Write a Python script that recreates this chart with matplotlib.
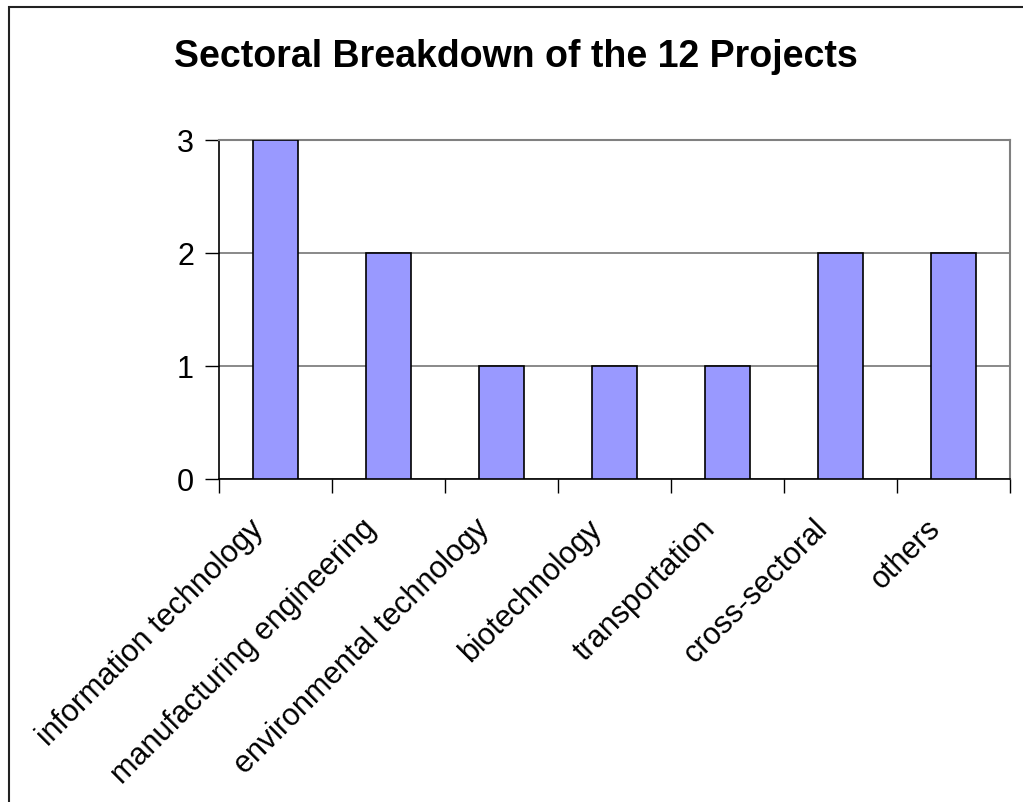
import matplotlib
matplotlib.use("Agg")
import matplotlib.pyplot as plt
from matplotlib.patches import Rectangle
from matplotlib.transforms import ScaledTranslation

categories = ["information technology", "manufacturing engineering", "environmental technology",
              "biotechnology", "transportation", "cross-sectoral", "others"]
values = [3, 2, 1, 1, 1, 2, 2]
yticks = [0, 1, 2, 3]
title = "Sectoral Breakdown of the 12 Projects"

plt.rcParams['font.family'] = ['Liberation Sans', 'DejaVu Sans']

W, H = 1023, 803
fig = plt.figure(figsize=(W / 100, H / 100), dpi=100)
ax = fig.add_axes([219 / W, 1 - 480 / H, (1010 - 219) / W, (480 - 141) / H])

x = list(range(len(categories)))
ax.bar(x, values, width=0.4, color="#9999FF", edgecolor="black", linewidth=1.2, zorder=3)
ax.set_xlim(-0.5, len(categories) - 0.5)
ax.set_ylim(0, 3)
ax.set_yticks(yticks)
ax.set_yticklabels([str(v) for v in yticks], fontsize=22)
ax.yaxis.grid(True, color="#808080", linewidth=1.3, zorder=0)
ax.tick_params(axis='y', length=10, width=1, direction='out', pad=8)

ax.set_xticks([i + 0.5 for i in range(-1, len(categories))], minor=False)
ax.set_xticklabels([""] * (len(categories) + 1))
ax.tick_params(axis='x', length=10, width=1, direction='out')
ax.set_xticks(x, minor=True)
labels = ax.set_xticklabels(categories, minor=True, rotation=45, ha='right', va='center',
                            rotation_mode='anchor', fontsize=22)
ax.tick_params(axis='x', which='minor', length=0, pad=32)
for lab in labels:
    lab.set_transform(lab.get_transform() + ScaledTranslation(-0.17, 0, fig.dpi_scale_trans))

for s in ['left', 'bottom']:
    ax.spines[s].set_color('black')
    ax.spines[s].set_linewidth(1.2)
for s in ['top', 'right']:
    ax.spines[s].set_color('#808080')
    ax.spines[s].set_linewidth(1.5)

fig.text(516 / W, 1 - 67 / H, title, ha='center', va='baseline', fontsize=27, fontweight='bold')

fig.patches.append(Rectangle((9 / W, -0.1), 1.2, 1 - 8 / H + 0.1, transform=fig.transFigure,
                             fill=False, edgecolor='#222222', linewidth=1.5))

fig.savefig("out.png", dpi=100)
